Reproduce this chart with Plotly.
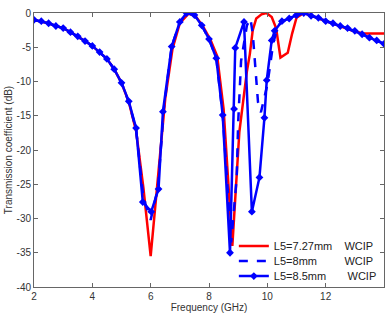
import plotly.graph_objects as go

# L5 = 7.27 mm (red solid)
f_red = [2.0, 2.25, 2.5, 2.75, 3.0, 3.25, 3.5, 3.75, 4.0, 4.25, 4.5, 4.75, 5.0, 5.25, 5.5,
         5.75, 6.0, 6.25, 6.5, 6.75, 7.0, 7.3, 7.55, 7.8, 8.05, 8.28, 8.5, 8.8,
         9.04, 9.3, 9.4, 9.5, 9.62, 9.8, 9.97, 10.15, 10.3, 10.45, 10.7, 10.85, 11.0,
         11.25, 11.5, 11.75, 12.0, 12.25, 12.5, 12.75, 13.0, 13.3, 13.6, 14.0]
db_red = [-1.0, -1.2, -1.5, -1.9, -2.2, -2.8, -3.4, -4.1, -4.8, -5.7, -6.7, -8.2, -10.2, -13.0, -17.2,
          -25.5, -35.5, -24.0, -12.5, -5.2, -1.5, -0.1, -0.5, -2.0, -3.9, -6.3, -14.0, -34.0,
          -17.4, -8.5, -6.0, -2.5, -0.8, -0.2, 0.0, -0.6, -2.2, -6.5, -5.8, -3.0, -0.7,
          0.0, -0.4, -0.7, -1.2, -1.5, -1.9, -2.3, -2.7, -3.0, -3.0, -3.0]

# L5 = 8 mm (blue dashed)
f_8 = [2.0, 2.25, 2.5, 2.75, 3.0, 3.25, 3.5, 3.75, 4.0, 4.25, 4.5, 4.75, 5.0, 5.25, 5.5,
       5.75, 6.0, 6.25, 6.45, 6.72, 7.0, 7.25, 7.5, 7.75, 8.0, 8.25, 8.47, 8.76,
       8.95, 9.0, 9.1, 9.3, 9.42, 9.5, 9.6, 9.68, 9.78, 10.0, 10.2, 10.35, 10.5,
       10.75, 11.0, 11.25, 11.5, 11.75, 12.0, 12.25, 12.5, 12.75, 13.0, 13.25, 13.5, 13.75, 14.0]
db_8 = [-1.0, -1.2, -1.5, -1.9, -2.2, -2.8, -3.4, -4.1, -4.8, -5.7, -6.7, -8.2, -10.2, -13.0, -17.0,
        -27.0, -30.2, -25.5, -14.0, -4.9, -1.3, 0.0, -0.3, -1.8, -3.8, -6.6, -14.9, -33.5,
        -24.0, -16.0, -7.0, -1.8, -0.8, -3.0, -9.0, -13.0, -14.5, -10.5, -4.5, -2.0, -1.2,
        -0.8, -0.3, 0.0, -0.4, -0.7, -1.2, -1.5, -1.9, -2.3, -2.7, -3.1, -3.6, -4.0, -4.5]

# L5 = 8.5 mm (blue solid with markers)
f_85 = [2.0, 2.25, 2.5, 2.75, 3.0, 3.25, 3.5, 3.75, 4.0, 4.25, 4.5, 4.75, 5.0, 5.25, 5.5,
        5.73, 6.02, 6.27, 6.42, 6.72, 7.0, 7.23, 7.5, 7.75, 8.0, 8.25, 8.47, 8.72,
        8.86, 8.9, 9.2, 9.47, 9.73, 9.9, 9.98, 10.15, 10.25, 10.5,
        10.75, 11.0, 11.25, 11.5, 11.75, 12.0, 12.25, 12.5, 12.75, 13.0, 13.25, 13.5, 13.75, 14.0]
db_85 = [-1.0, -1.2, -1.5, -1.9, -2.2, -2.8, -3.4, -4.1, -4.8, -5.7, -6.7, -8.2, -10.2, -12.9, -16.8,
         -27.6, -29.0, -25.7, -14.4, -4.9, -1.3, 0.0, -0.3, -1.8, -3.8, -6.6, -14.9, -35.0,
         -14.0, -5.1, -1.3, -29.0, -24.0, -15.3, -9.8, -4.0, -2.6, -1.2,
         -0.8, -0.3, 0.0, -0.4, -0.7, -1.2, -1.5, -1.9, -2.2, -2.6, -3.1, -3.6, -4.0, -4.5]

x_ticks = [2, 4, 6, 8, 10, 12, 14]
y_ticks = [0, -5, -10, -15, -20, -25, -30, -35, -40]

NB = "\u00a0"
names = ["L5=7.27mm" + NB * 4 + "WCIP",
         "L5=8mm" + NB * 9 + "WCIP",
         "L5=8.5mm" + NB * 7 + "WCIP"]

FONT = "Liberation Sans, Arial"

fig = go.Figure()
fig.add_trace(go.Scatter(x=f_red, y=db_red, mode="lines", name=names[0], legend="legend",
                         line=dict(color="#ff0000", width=2.5)))
fig.add_trace(go.Scatter(x=f_8, y=db_8, mode="lines", name=names[1], legend="legend2",
                         line=dict(color="#0000ff", width=2.5, dash="dash")))
fig.add_trace(go.Scatter(x=f_85, y=db_85, mode="lines+markers", name=names[2], legend="legend3",
                         line=dict(color="#0000ff", width=2.5),
                         marker=dict(symbol="diamond", size=6, color="#0000ff")))

axis_common = dict(showgrid=False, zeroline=False, showline=True, linecolor="#666666",
                   linewidth=1, mirror="ticks", ticks="inside", ticklen=4,
                   tickcolor="#666666", automargin=False,
                   tickfont=dict(family=FONT, size=10, color="#333333"))

fig.update_xaxes(range=[2, 14], tickvals=x_ticks, ticktext=[str(v) for v in x_ticks],
                 title=dict(text="Frequency (GHz)", font=dict(family=FONT, size=10, color="#333333"), standoff=1),
                 **axis_common)
fig.update_yaxes(range=[-40, 0], tickvals=y_ticks, ticktext=[str(v) for v in y_ticks],
                 title=dict(text="Transmission coefficient (dB)", font=dict(family=FONT, size=10, color="#333333"), standoff=2),
                 **axis_common)

leg_common = dict(x=0.571, xanchor="left", yanchor="middle",
                  bgcolor="rgba(255,255,255,0)", borderwidth=0,
                  font=dict(family=FONT, size=11, color="#222222"))

fig.update_layout(
    width=389, height=318,
    margin=dict(l=34, r=5, t=13, b=31, autoexpand=False),
    paper_bgcolor="white", plot_bgcolor="white",
    showlegend=True,
    legend=dict(y=0.150, **leg_common),
    legend2=dict(y=0.095, **leg_common),
    legend3=dict(y=0.040, **leg_common),
)

fig.write_html("out.html")
